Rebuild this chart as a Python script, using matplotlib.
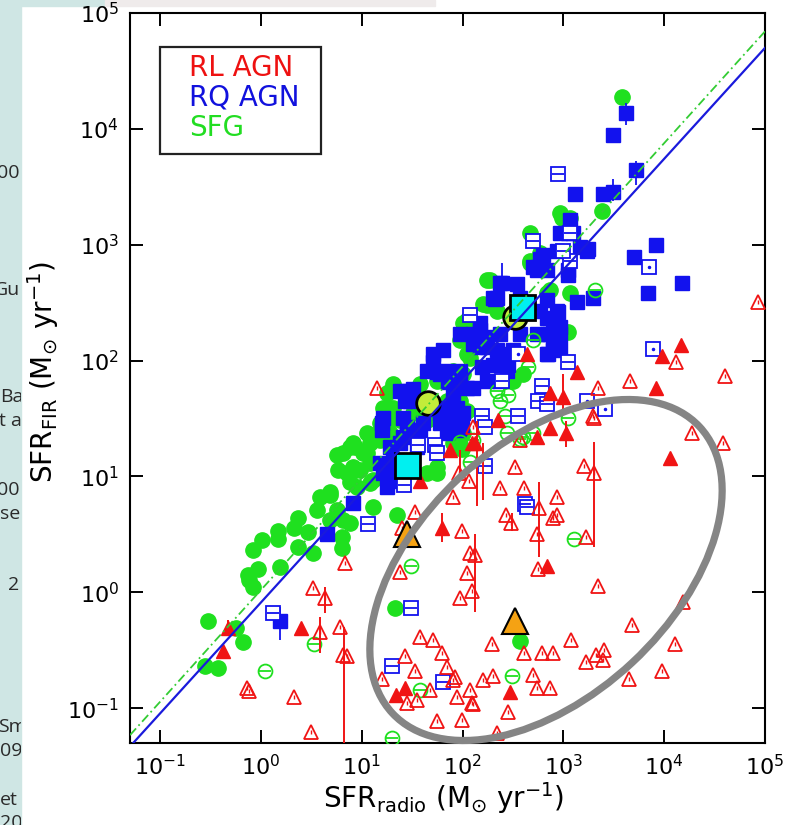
import numpy as np
import matplotlib
matplotlib.use("Agg")
import matplotlib.pyplot as plt
from matplotlib.patches import Ellipse, Rectangle
from matplotlib.ticker import LogLocator, NullLocator

# ---------------- data: SFR_radio (x) vs SFR_FIR (y), Msun/yr ----------------
# radio-loud AGN, detected (filled triangles)
rl_det_x = [0.42, 0.47, 2.5, 22, 27, 62, 75, 124, 38, 11500, 690, 294, 740, 1050, 550,
            1370, 740, 1000, 14700, 9500, 8200, 133, 225, 435]
rl_det_y = [0.31, 0.49, 0.49, 0.13, 0.15, 3.6, 16.8, 19.6, 9.2, 14.3, 1.7, 0.137, 26, 23.5, 21.7,
            79, 52, 48, 135, 110, 58, 19.3, 30.5, 115]

# radio-loud AGN, open triangles
rl_open_x = [0.73, 0.75, 2.1, 3.1, 3.3, 4.3, 3.85, 6.1, 6.5, 7.1, 6.8,
             34, 25, 24, 38, 51, 62, 27, 34, 70, 16, 47, 80, 88, 118, 124, 28, 35, 55, 98,
             98, 110, 95, 125, 118, 80, 115, 92, 14, 127, 370,
             19000, 38000, 2000, 1600, 2000, 860, 780, 860, 570, 234, 405, 330, 270, 300, 550,
             1690, 133, 560, 2200, 15500, 4800, 12800, 9500, 4500, 195, 405, 610, 780, 1200,
             1680, 2100, 2500, 2450, 160, 200, 500, 550, 740, 127, 280, 220, 84,
             2200, 1950, 85000, 13000, 40000, 4600]
rl_open_y = [0.15, 0.14, 0.124, 0.062, 1.08, 0.89, 0.45, 0.50, 0.29, 0.28, 1.8,
             4.9, 3.6, 1.5, 0.41, 0.385, 0.30, 0.28, 0.21, 0.225, 0.18, 0.143, 0.174, 0.124, 0.143,
             0.11, 0.11, 0.117, 0.077, 0.079,
             3.4, 1.46, 0.89, 1.03, 2.17, 6.6, 9.2, 10.8, 58, 26.5, 20.5,
             23.5, 19.3, 32, 12.2, 10.8, 6.6, 4.4, 4.6, 5.3, 7.9, 8.0, 12, 4.6, 4.0, 3.2,
             3.0, 2.1, 1.6, 1.13, 0.82, 0.52, 0.36, 0.21, 0.18, 0.355, 0.30, 0.30, 0.30, 0.385,
             0.25, 0.29, 0.316, 0.26, 0.174, 0.19, 0.195, 0.15, 0.15, 0.108, 0.093, 0.061, 0.185,
             58, 33, 320, 97, 74, 67]

# radio-loud AGN vertical error bars: x, lower, upper
rl_err_x = [0.47, 4.3, 3.85, 6.6, 2000, 570, 133, 62, 1050, 160, 139, 94, 1000, 310]
rl_err_lo = [0.42, 0.66, 0.30, 0.05, 2.45, 2.0, 0.67, 2.7, 17.8, 6.2, 5.6, 9.8, 35, 3.4]
rl_err_hi = [0.58, 1.12, 0.61, 0.50, 19.7, 8.9, 3.2, 4.8, 30, 19.3, 30, 16.8, 77, 4.8]

# radio-quiet AGN, detected (filled squares)
rq_det_x = [1.55, 4.5, 8.2, 16.2, 19, 18.2, 17.8, 20.4, 22.3, 15.1,
            15.8, 28, 32, 27, 47, 70, 88, 101, 60, 79, 98, 40, 28, 25.7, 34,
            94, 64, 51, 44, 56, 70, 72, 94, 110, 80,
            1160, 1100, 1250, 1700, 1120, 860, 586, 500, 690, 234, 200, 345, 370, 586, 860, 690,
            920, 690, 1370, 1960, 148, 127, 175, 234, 280, 200, 155, 175, 127, 94, 690, 790, 860,
            60, 88, 30, 24, 16.2, 15.8, 25.7, 28, 38, 60, 80, 94, 70, 275, 234, 19, 24, 35,
            4200, 3100, 5300, 1290, 2450, 3100, 920, 1770, 1460, 8200, 5000, 6900, 15000, 880,
            245, 210, 560, 625, 790, 705, 1120, 550, 220, 690, 790, 148, 127, 175, 234, 370, 550,
            740, 920, 51, 148, 220, 315, 920]
rq_det_y = [0.57, 3.2, 5.9, 10.8, 9.2, 10.6, 8.1, 13.8, 10.6, 13,
            29, 55, 57, 45, 38.5, 39, 39, 35, 29, 27.5, 27.5, 29, 26.5, 21.7, 23.5,
            170, 123, 97, 82, 79, 82, 65, 67, 58, 52,
            1630, 1270, 1250, 890, 545, 890, 760, 640, 600, 470, 350, 460, 350, 270, 270, 235,
            195, 170, 320, 350, 183, 140, 130, 115, 91, 91, 88, 67, 58, 82, 115, 150, 160,
            77, 67, 45, 55, 32, 25, 32, 23.5, 25, 35, 32, 25, 23.5, 82, 67, 17.8, 19.3, 17.8,
            13800, 8800, 4400, 2750, 2750, 2850, 1270, 910, 950, 1000, 780, 380, 470, 260,
            470, 340, 640, 810, 123, 115, 600, 600, 350, 335, 225, 210, 170, 160, 170, 170, 170,
            170, 170, 115, 130, 123, 123, 128]

# radio-quiet AGN vertical error bars
rq_err_x = [1.55, 4200, 5300, 3100, 245]
rq_err_lo = [0.39, 10800, 3300, 2400, 335]
rq_err_hi = [0.74, 16600, 5300, 3700, 700]

# radio-quiet AGN, open squares
rq_open_x = [1.3, 11.5, 31, 20, 64, 26, 36, 53, 56, 415, 430, 167, 355, 880, 500, 1160,
             1120, 610, 118, 560, 690, 155, 167, 245, 1160, 1000]
rq_open_y = [0.66, 3.9, 0.73, 0.23, 0.167, 8.4, 18.5, 18.5, 15.8, 5.8, 5.4, 12.4, 33, 4100, 1070, 1250,
             97, 60, 245, 45, 42.5, 33, 26.5, 67, 730, 890]
# open squares with a central dot
rq_dot_x = [2600, 7000, 7700, 355, 1700]
rq_dot_y = [38, 640, 126, 115, 45]

# star-forming galaxies, detected (filled circles)
sfg_det_x = [0.30, 0.56, 0.66, 0.28, 0.37, 0.76, 0.83, 0.74, 0.93, 0.83, 1.02, 1.47, 1.47, 1.54,
             2.3, 2.1, 2.3, 2.9, 3.3, 3.6, 3.85, 4.8, 5.7, 4.8, 5.8, 5.7, 7.6, 8.2, 10.2, 12, 7.6,
             6.5, 6.4, 6.4, 7.6, 12.9, 22.3, 15.1, 16.2, 19, 21.3, 12,
             4.8, 6.5, 8.6, 11.2, 7.1, 9.6, 12, 12.9, 9, 15.1, 19, 15.1, 20.4, 19, 22.3, 32, 44,
             24, 32, 38, 56, 80, 94, 110, 110, 139, 118, 98, 80, 56, 44, 56,
             920, 1160, 2400, 466, 586, 466, 186, 159, 220, 690, 1160, 1100, 110, 94, 118, 101,
             80, 315, 395, 70, 110, 20.4, 17.8, 19, 24, 11.2, 8.2, 80, 101, 88,
             3800, 960, 175, 466, 175, 101, 740, 370]
sfg_det_y = [0.57, 0.49, 0.37, 0.23, 0.22, 1.27, 1.1, 1.4, 1.6, 2.3, 2.8, 3.4, 2.9, 1.64,
             4.4, 3.6, 2.45, 3.3, 2.2, 5.1, 6.6, 6.9, 5.1, 4.2, 11.3, 15.2, 17.8, 12, 15.8, 19.3, 8.9,
             4.2, 3.0, 2.4, 4.0, 5.4, 4.6, 25, 39, 30.5, 0.73, 8.7,
             7.3, 15.8, 17.8, 15.8, 10.6, 11.3, 13, 9.25, 8.1, 20.5, 23.5, 29, 39, 55, 32, 35, 30.5,
             20.5, 25, 63, 67, 82, 45, 115, 225, 170, 140, 17.4, 19.3, 10.6, 10.6, 12,
             1860, 1700, 1970, 1250, 840, 690, 500, 310, 270, 380, 380, 175, 183, 150, 106, 77,
             63, 67, 77, 45, 37, 63, 52, 39, 30.5, 23.5, 19.3, 25, 23.5, 19.3,
             18700, 1700, 300, 730, 500, 210, 410, 0.38]

# star-forming galaxies, open circles
sfg_open_x = [3.35, 1.1, 31, 38, 20, 310, 1260, 2050, 445, 220, 234, 280, 500, 500, 1100,
              94, 127, 275, 118, 395, 265, 370]
sfg_open_y = [0.36, 0.21, 1.7, 0.143, 0.055, 0.19, 2.9, 410, 88, 55, 45, 50, 150, 23.5, 32,
              19.7, 20.5, 23.5, 13.3, 21.7, 33, 21]

# sample medians
med_rq_x, med_rq_y = [28, 388], [12.5, 288]
med_sfg_x, med_sfg_y = [45, 331], [43, 240]
med_rl_x, med_rl_y = [28, 331], [3.2, 0.57]

# power-law relations SFR_FIR = A * SFR_radio**B
fit_rq = (0.82, 0.957)
fit_sfg = (1.05, 0.964)

legend_labels = ["RL AGN", "RQ AGN", "SFG"]

# ---------------- styling ----------------
RED = "#f01414"
BLUE = "#1212ee"
GREEN = "#1fe01f"

fig = plt.figure(figsize=(7.87, 8.25), dpi=100)
W, H = 787, 825

# slide background strip on the left
strip = Rectangle((0, 0), 21 / W, 1, transform=fig.transFigure, color="#cfe6e4", zorder=0)
fig.add_artist(strip)
fig.add_artist(Rectangle((0, 819 / H), 105 / W, 6 / H, transform=fig.transFigure,
                         color="#cfe6e4", zorder=0))
fig.add_artist(Rectangle((105 / W, 819 / H), 330 / W, 6 / H, transform=fig.transFigure,
                         color="#efebeb", zorder=0))
side_text = [("00", -3, 173), ("Gu", -6, 290), ("Ba", 0, 397), ("t a", -1, 421),
             ("00", -3, 490), ("se", 0, 514), ("2", 8, 585), ("Sm", -2, 727),
             ("09", 0, 751), ("et", 0, 800), ("20", 0, 823)]
for s, px, py in side_text:
    t = fig.text(px / W, 1 - py / H, s, ha="left", va="center", fontsize=14,
                 family="Open Sans", color="#2a2a2a", zorder=1)
    t.set_clip_path(strip)

ax = fig.add_axes([130 / W, 82 / H, 635 / W, 730 / H])
ax.set_xscale("log")
ax.set_yscale("log")
ax.set_xlim(0.05, 1e5)
ax.set_ylim(0.05, 1e5)
for axis in (ax.xaxis, ax.yaxis):
    axis.set_major_locator(LogLocator(base=10, numticks=20))
    axis.set_minor_locator(NullLocator())
ax.tick_params(which="major", direction="in", length=9.5, width=1.4, top=True, right=True,
               labelsize=16, pad=8)
for sp in ax.spines.values():
    sp.set_linewidth(1.5)

# detections and limits
ax.plot(sfg_det_x, sfg_det_y, "o", color=GREEN, ms=11, mec=GREEN, zorder=2)
ax.plot(rq_det_x, rq_det_y, "s", color=BLUE, ms=10.3, mec=BLUE, zorder=3)
ax.vlines(rq_err_x, rq_err_lo, rq_err_hi, color=BLUE, lw=1.3, zorder=3)
ax.plot(sfg_open_x, sfg_open_y, "o", mfc="none", mec=GREEN, mew=1.3, ms=10, zorder=4)
ax.plot(sfg_open_x, sfg_open_y, "_", color=GREEN, mew=1.3, ms=9, zorder=4)
ax.plot(rq_open_x, rq_open_y, "s", mfc="white", mec=BLUE, mew=1.3, ms=9.5, zorder=4)
ax.plot(rq_open_x, rq_open_y, "_", color=BLUE, mew=1.3, ms=9, zorder=4)
ax.plot(rq_dot_x, rq_dot_y, "s", mfc="white", mec=BLUE, mew=1.3, ms=9.5, zorder=4)
ax.plot(rq_dot_x, rq_dot_y, ".", color=BLUE, ms=3, zorder=4)
ax.vlines(rl_err_x, rl_err_lo, rl_err_hi, color=RED, lw=1.4, zorder=5)
ax.plot(rl_det_x, rl_det_y, "^", color=RED, mec=RED, ms=10, zorder=5)
ax.plot(rl_open_x, rl_open_y, "^", mfc="none", mec=RED, mew=1.3, ms=10, zorder=5)
ax.plot(rl_open_x, rl_open_y, "|", color=RED, mew=1.0, ms=3.5, zorder=5)

# medians
ax.plot(med_sfg_x, med_sfg_y, "o", mfc="#c2ec3a", mec="black", mew=2, ms=17, zorder=6)
ax.plot(med_rq_x, med_rq_y, "s", mfc="#00f0f0", mec="black", mew=2, ms=18, zorder=7)
ax.plot(med_rl_x, med_rl_y, "^", mfc="#f5a213", mec="black", mew=1.5, ms=19, zorder=7)

# relations
xl = np.logspace(np.log10(0.05), 5, 60)
ax.plot(xl, fit_sfg[0] * xl ** fit_sfg[1], color="#33cc33", lw=1.3,
        dashes=(5, 2, 1, 2), zorder=8)
ax.plot(xl, fit_rq[0] * xl ** fit_rq[1], color="#1a1adc", lw=1.6, zorder=8)

# highlighted region
ell = Ellipse((546 / 100, (H - 570) / 100), 4.20, 2.53, angle=43,
              transform=fig.dpi_scale_trans, fill=False, ec="#858585", lw=5.2, zorder=9)
ell.set_clip_on(False)
ax.add_artist(ell)

# legend box
ax.add_patch(Rectangle((0.047, 0.807), 0.254, 0.146, transform=ax.transAxes, fill=False,
                       ec="#222222", lw=1.6, zorder=10))
for lab, col, yy in zip(legend_labels, ["#ee1111", "#1111dd", "#22dd22"], [0.925, 0.884, 0.842]):
    ax.text(0.093, yy, lab, color=col, fontsize=20, ha="left", va="center",
            transform=ax.transAxes, zorder=10)

ax.set_xlabel(r"SFR$_{\rm radio}$ (M$_{\odot}$ yr$^{-1}$)", fontsize=20, va="center")
ax.xaxis.set_label_coords(0.494, -0.076)
ax.set_ylabel(r"SFR$_{\rm FIR}$ (M$_{\odot}$ yr$^{-1}$)", fontsize=20, va="center")
ax.yaxis.set_label_coords(-0.137, 0.508)

fig.savefig("out.png", dpi=100)
